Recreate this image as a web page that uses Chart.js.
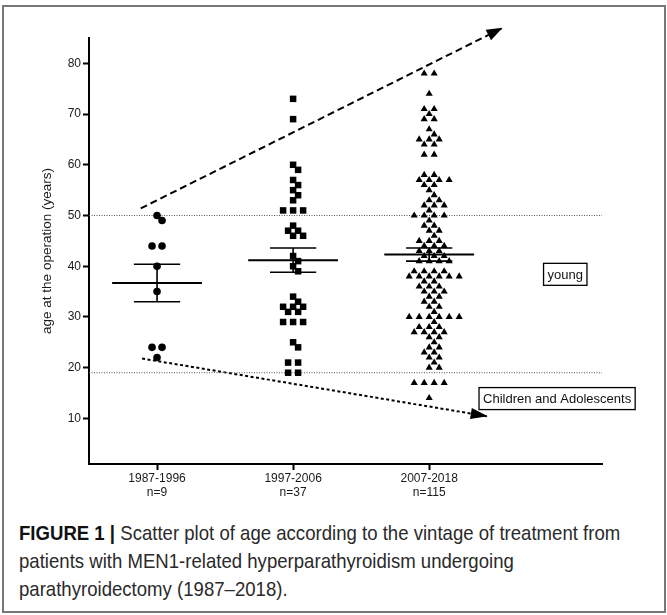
<!DOCTYPE html>
<html>
<head>
<meta charset="utf-8">
<script src="https://cdn.jsdelivr.net/npm/chart.js@4"></script>
<style>
  html, body { margin: 0; padding: 0; background: #fff; }
  #wrap { position: relative; width: 667px; height: 615px; overflow: hidden; }
  #frame { position: absolute; left: 2px; top: 5px; width: 660px; height: 604px; border: 2px solid #777; }
  #chartBox { position: absolute; left: 0; top: 0; width: 667px; height: 510px; }
  #caption { position: absolute; left: 19px; top: 519px; font-family: "Liberation Sans Narrow", "Arial Narrow", "Liberation Sans", sans-serif; font-size: 21px; line-height: 28px; color: #2a2a2a; white-space: nowrap; transform: scaleX(0.885); transform-origin: 0 0; }
  #caption b { color: #111; }
</style>
</head>
<body>
<div id="wrap">
  <div id="frame"></div>
  <div id="chartBox"><canvas id="scatter" width="667" height="510"></canvas></div>
  <div id="caption"><b>FIGURE 1 |</b> Scatter plot of age according to the vintage of treatment from<br>patients with MEN1-related hyperparathyroidism undergoing<br>parathyroidectomy (1987–2018).</div>
</div>
<script>
// Data
const categories = ["1987-1996", "1997-2006", "2007-2018"];
const groupSizes = ["n=9", "n=37", "n=115"];
const yTicks = [10, 20, 30, 40, 50, 60, 70, 80];

const ages1987 = [50, 49, 44, 44, 40, 35, 24, 24, 22];
const ages1997 = [73, 69, 60, 59, 57, 56, 55, 54, 53, 51, 51, 51, 48, 47, 47, 46, 46,
  42, 41, 40, 39, 34, 33, 32, 32, 32, 31, 31, 29, 29, 29, 25, 24, 21, 21, 19, 19];
const ages2007 = [78, 78, 74, 71, 71, 70, 69, 69, 67, 66, 65, 65, 65, 64, 64, 62, 62,
  58, 58, 57, 57, 57, 57, 56, 56, 55, 54, 53, 53, 52, 52, 52, 51, 50, 50, 50, 50, 49,
  48, 48, 47, 47, 46, 45, 45, 45, 44, 44, 44, 43, 43, 43, 42, 42, 42, 41, 41, 41, 41,
  39, 39, 39, 39, 38, 38, 38, 38, 38, 38, 37, 37, 36, 36, 36, 35, 35, 35, 34, 34, 33,
  33, 32, 32, 31, 30, 30, 30, 30, 30, 30, 29, 28, 28, 28, 27, 27, 27, 27, 26, 26, 25,
  24, 24, 23, 23, 22, 22, 21, 20, 20, 17, 17, 17, 17, 14];

const groupMean = [36.7, 41.2, 42.3];
const groupSem = [3.7, 2.4, 1.3];

const refLines = [50, 19];
const upperArrow = [{x: -0.12, y: 51.4}, {x: 2.54, y: 87}];
const lowerArrow = [{x: -0.11, y: 21.8}, {x: 2.43, y: 10.4}];
const noteLabels = [
  {text: "young", x: 3.0, y: 38.4},
  {text: "Children and Adolescents", x: 2.94, y: 13.9}
];

const xMin = -0.5, xMax = 3.27;
const font = "'Liberation Sans', Arial, sans-serif";

// spread equal/near values sideways like a column scatter
function swarm(values, group, chart) {
  const xs = chart.scales.x, ys = chart.scales.y;
  const pxX = xs.getPixelForValue(1) - xs.getPixelForValue(0);
  const rows = {};
  values.forEach(v => { rows[v] = (rows[v] || 0) + 1; });
  const keys = Object.keys(rows).map(Number).sort((a, b) => b - a);
  const placed = [], out = [];
  keys.forEach(v => {
    const n = rows[v];
    const py = ys.getPixelForValue(v);
    for (let k = 0; k < 60; k++) {
      const s = (k % 2 ? 1 : -1) * Math.ceil(k / 2) * 5;
      const offs = [];
      for (let i = 0; i < n; i++) offs.push((i - (n - 1) / 2) * 10 + s);
      const hit = offs.some(o => placed.some(p => Math.hypot(p.o - o, p.py - py) < 7));
      if (!hit) {
        offs.forEach(o => { placed.push({o, py}); out.push({x: group + o / pxX, y: v}); });
        break;
      }
    }
  });
  return out;
}

function arrowHead(ctx, p0, p1, len, half) {
  const a = Math.atan2(p1.y - p0.y, p1.x - p0.x);
  ctx.beginPath();
  ctx.moveTo(p1.x, p1.y);
  ctx.lineTo(p1.x - len * Math.cos(a) + half * Math.sin(a), p1.y - len * Math.sin(a) - half * Math.cos(a));
  ctx.lineTo(p1.x - len * Math.cos(a) - half * Math.sin(a), p1.y - len * Math.sin(a) + half * Math.cos(a));
  ctx.closePath();
  ctx.fill();
}

const overlayPlugin = {
  id: "overlay",
  afterDatasetsDraw(chart) {
    const ctx = chart.ctx;
    const xs = chart.scales.x, ys = chart.scales.y;
    ctx.save();
    ctx.strokeStyle = "#000";
    ctx.fillStyle = "#000";

    // mean and SEM bars
    groupMean.forEach((m, i) => {
      const cx = xs.getPixelForValue(i);
      const wide = xs.getPixelForValue(i + 0.33) - cx;
      const narrow = xs.getPixelForValue(i + 0.17) - cx;
      const yM = ys.getPixelForValue(m);
      const yT = ys.getPixelForValue(m + groupSem[i]);
      const yB = ys.getPixelForValue(m - groupSem[i]);
      ctx.lineWidth = 2;
      ctx.beginPath();
      ctx.moveTo(cx - wide, yM); ctx.lineTo(cx + wide, yM);
      ctx.stroke();
      ctx.lineWidth = 1.6;
      ctx.beginPath();
      ctx.moveTo(cx - narrow, yT); ctx.lineTo(cx + narrow, yT);
      ctx.moveTo(cx - narrow, yB); ctx.lineTo(cx + narrow, yB);
      ctx.moveTo(cx, yT); ctx.lineTo(cx, yB);
      ctx.stroke();
    });

    // arrow heads
    [[upperArrow, 16, 6], [lowerArrow, 17, 5.5]].forEach(([arr, len, half]) => {
      const p0 = {x: xs.getPixelForValue(arr[0].x), y: ys.getPixelForValue(arr[0].y)};
      const p1 = {x: xs.getPixelForValue(arr[1].x), y: ys.getPixelForValue(arr[1].y)};
      arrowHead(ctx, p0, p1, len, half);
    });

    // boxed notes
    ctx.font = "13px " + font;
    ctx.textAlign = "center";
    ctx.textBaseline = "middle";
    ctx.lineWidth = 1.3;
    noteLabels.forEach(n => {
      const px = xs.getPixelForValue(n.x), py = ys.getPixelForValue(n.y);
      const w = ctx.measureText(n.text).width + 8;
      const h = 22;
      ctx.fillStyle = "#fff";
      ctx.fillRect(px - w / 2, py - h / 2, w, h);
      ctx.strokeRect(px - w / 2, py - h / 2, w, h);
      ctx.fillStyle = "#111";
      ctx.fillText(n.text, px, py + 1);
    });
    ctx.restore();
  }
};

const helperLine = (data, dash, width, color) => ({
  type: "scatter",
  data: data,
  showLine: true,
  borderColor: color,
  borderWidth: width,
  borderDash: dash,
  pointRadius: 0,
  fill: false,
  clip: false
});

const chart = new Chart(document.getElementById("scatter"), {
  type: "scatter",
  data: {
    datasets: [
      {data: ages1987.map(v => ({x: 0, y: v})), pointStyle: "circle", pointRadius: 3.8,
        backgroundColor: "#000", borderWidth: 0},
      {data: ages1997.map(v => ({x: 1, y: v})), pointStyle: "rect", pointRadius: 4.6,
        backgroundColor: "#000", borderWidth: 0},
      {data: ages2007.map(v => ({x: 2, y: v})), pointStyle: "triangle", pointRadius: 4.1,
        backgroundColor: "#000", borderWidth: 0},
      helperLine(refLines.slice(0, 1).flatMap(v => [{x: xMin, y: v}, {x: xMax, y: v}]), [1, 1.5], 1, "#555"),
      helperLine(refLines.slice(1, 2).flatMap(v => [{x: xMin, y: v}, {x: xMax, y: v}]), [1, 1.5], 1, "#555"),
      helperLine(upperArrow, [7, 4], 2, "#000"),
      helperLine(lowerArrow, [3, 2.5], 2, "#000")
    ]
  },
  options: {
    responsive: false,
    animation: false,
    layout: {padding: {top: 38, right: 65, bottom: 0, left: 0}},
    plugins: {legend: {display: false}, tooltip: {enabled: false}},
    scales: {
      x: {
        type: "linear",
        min: xMin,
        max: xMax,
        afterBuildTicks: s => { s.ticks = [0, 1, 2].map(v => ({value: v})); },
        afterFit: s => { s.height = 46; },
        ticks: {
          autoSkip: false,
          maxRotation: 0,
          padding: 1,
          color: "#1a1a1a",
          font: {family: font, size: 12},
          callback: v => [categories[v], groupSizes[v]]
        },
        grid: {drawOnChartArea: false, tickLength: 6, tickColor: "#000", tickWidth: 2},
        border: {color: "#000", width: 2}
      },
      y: {
        min: 1,
        max: 85,
        afterBuildTicks: s => { s.ticks = yTicks.map(v => ({value: v})); },
        afterFit: s => { s.width = 89; },
        ticks: {padding: 2, color: "#1a1a1a", font: {family: font, size: 12}},
        grid: {drawOnChartArea: false, tickLength: 6, tickColor: "#000", tickWidth: 2},
        border: {color: "#000", width: 2},
        title: {
          display: true,
          text: "age at the operation (years)",
          color: "#1a1a1a",
          font: {family: font, size: 13.5},
          padding: {top: 39, bottom: 0}
        }
      }
    }
  },
  plugins: [overlayPlugin]
});

chart.data.datasets[0].data = swarm(ages1987, 0, chart);
chart.data.datasets[1].data = swarm(ages1997, 1, chart);
chart.data.datasets[2].data = swarm(ages2007, 2, chart);
chart.update("none");
</script>
</body>
</html>
